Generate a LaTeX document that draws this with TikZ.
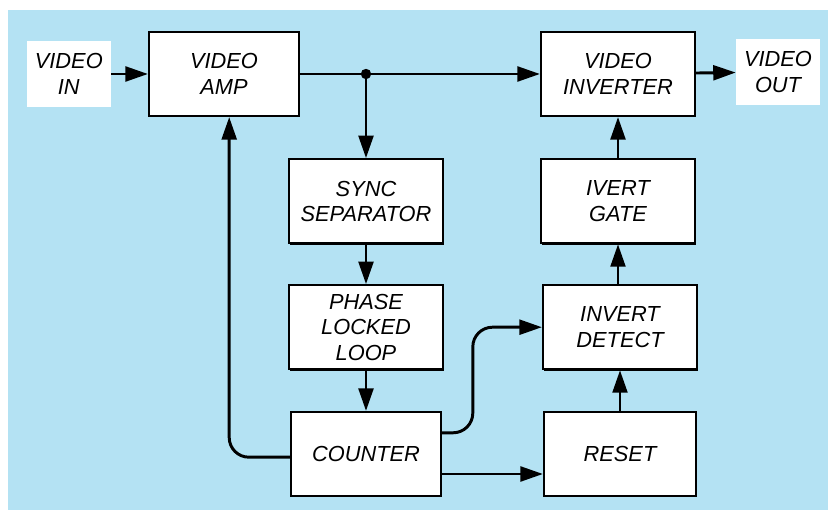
\documentclass[tikz,border=0pt]{standalone}
\usepackage{fontspec}
\setmainfont{Liberation Sans}
\usetikzlibrary{arrows.meta,shadows}
\definecolor{pozadi}{RGB}{180,226,243}

\begin{document}
\begin{tikzpicture}[
        blok/.style={draw, line width=1.5pt, fill=white, minimum width=3.85cm,
            minimum height=2.1cm, align=center, font=\fontsize{15.5}{18}\selectfont\itshape,
            drop shadow={shadow xshift=1pt, shadow yshift=-1pt, opacity=1, fill=black}},
        popis/.style={fill=white, minimum width=2.1cm, minimum height=1.65cm,
            align=center, font=\fontsize{15.5}{18}\selectfont\itshape},
        sipka/.style={-{Triangle[length=16pt,width=10.5pt]}, line width=2.1pt}
    ]
        \useasboundingbox (0,0) rectangle (21,12.9);
        % pozadi
        \fill[pozadi] (0.2,0.15) rectangle (20.7,12.65);

        % levy sloupec
        \node[popis] (vin) at (1.72,11.05) {VIDEO\\IN};
        \node[blok, minimum width=3.75cm] (amp) at (5.6,11.05) {VIDEO\\AMP};

        % prostredni sloupec
        \node[blok] (sync) at (9.15,7.87) {SYNC\\SEPARATOR};
        \node[blok] (pll) at (9.15,4.72) {PHASE\\LOCKED\\LOOP};
        \node[blok, minimum width=3.75cm] (counter) at (9.15,1.55) {COUNTER};

        % pravy sloupec
        \node[blok] (vinv) at (15.45,11.05) {VIDEO\\INVERTER};
        \node[blok] (gate) at (15.45,7.87) {IVERT\\GATE};
        \node[blok] (detect) at (15.5,4.72) {INVERT\\DETECT};
        \node[blok, minimum width=3.8cm] (reset) at (15.5,1.55) {RESET};
        \node[popis] (vout) at (19.45,11.1) {VIDEO\\OUT};

        % signalova cesta
        \coordinate (uzel) at (sync.north |- amp.east);
        \draw[sipka] (vin) -- (amp);
        \draw[sipka] (amp) -- (vinv);
        \fill (uzel) circle (0.13);
        \draw[sipka] (uzel) -- (sync);
        \draw[sipka] (sync) -- (pll);
        \draw[sipka] (pll) -- (counter);
        \draw[sipka] (vinv) -- (vout);

        % zpetna vazba
        \draw[sipka, rounded corners=14pt] ([yshift=-0.08cm]counter.west) -| ([xshift=0.13cm]amp.south);

        % invertovani
        \coordinate (ohyb) at (11.82,3.4);
        \draw[sipka, rounded corners=14pt] ([yshift=0.53cm]counter.east) -| (ohyb) |- (detect.west);
        \draw[sipka] ([yshift=-0.5cm]counter.east) -- ([yshift=-0.5cm]reset.west);
        \draw[sipka] (reset) -- (detect);
        \draw[sipka] (detect.north -| gate) -- (gate);
        \draw[sipka] (gate) -- (vinv);
    \end{tikzpicture}
\end{document}
